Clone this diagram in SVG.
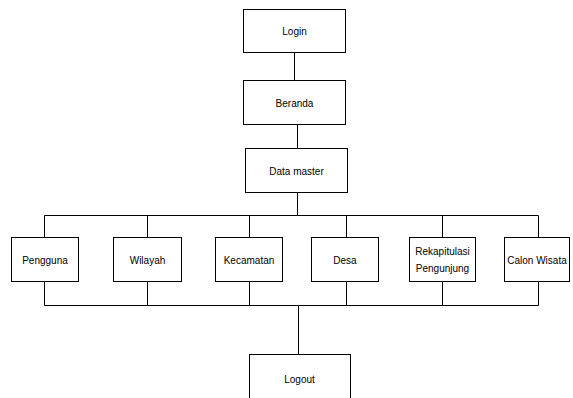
<svg xmlns="http://www.w3.org/2000/svg" width="573" height="398" viewBox="0 0 573 398">
  <style>
    .box { fill: #ffffff; stroke: #000000; stroke-width: 1; }
    .lbl { font-family: "Liberation Sans", Arial, sans-serif; font-size: 10px; fill: #000000; text-anchor: middle; dominant-baseline: central; }
    .wire { fill: none; stroke: #000000; stroke-width: 1; }
  </style>
  <rect width="573" height="398" fill="#ffffff"/>

  <g id="connectors">
    <line class="wire" x1="294.5" y1="53" x2="294.5" y2="80"/>
    <line class="wire" x1="297.5" y1="125" x2="297.5" y2="148"/>
    <line class="wire" x1="297.5" y1="193" x2="297.5" y2="215"/>
    <!-- upper bus to the menu items -->
    <polyline class="wire" points="44.5,237 44.5,215.5 538.5,215.5 538.5,237"/>
    <line class="wire" x1="147.5" y1="215.5" x2="147.5" y2="237"/>
    <line class="wire" x1="249.5" y1="215.5" x2="249.5" y2="237"/>
    <line class="wire" x1="346.5" y1="215.5" x2="346.5" y2="237"/>
    <line class="wire" x1="442.5" y1="215.5" x2="442.5" y2="237"/>
    <!-- lower bus gathering the menu items -->
    <polyline class="wire" points="44.5,282 44.5,305.5 538.5,305.5 538.5,282"/>
    <line class="wire" x1="147.5" y1="282" x2="147.5" y2="305.5"/>
    <line class="wire" x1="249.5" y1="282" x2="249.5" y2="305.5"/>
    <line class="wire" x1="346.5" y1="282" x2="346.5" y2="305.5"/>
    <line class="wire" x1="442.5" y1="282" x2="442.5" y2="305.5"/>
    <line class="wire" x1="298.5" y1="305.5" x2="298.5" y2="354"/>
  </g>

  <g id="login">
    <rect class="box" x="243.5" y="9.5" width="102" height="43"/>
    <text class="lbl" x="294.5" y="31">Login</text>
  </g>
  <g id="beranda">
    <rect class="box" x="243.5" y="80.5" width="102" height="44"/>
    <text class="lbl" x="294.5" y="103">Beranda</text>
  </g>
  <g id="data-master">
    <rect class="box" x="245.5" y="148.5" width="102" height="44"/>
    <text class="lbl" x="296.5" y="171">Data master</text>
  </g>

  <g id="pengguna">
    <rect class="box" x="11.5" y="237.5" width="67" height="44"/>
    <text class="lbl" x="45" y="260">Pengguna</text>
  </g>
  <g id="wilayah">
    <rect class="box" x="113.5" y="237.5" width="68" height="44"/>
    <text class="lbl" x="147.5" y="260">Wilayah</text>
  </g>
  <g id="kecamatan">
    <rect class="box" x="215.5" y="237.5" width="67" height="44"/>
    <text class="lbl" x="249" y="260">Kecamatan</text>
  </g>
  <g id="desa">
    <rect class="box" x="311.5" y="237.5" width="67" height="44"/>
    <text class="lbl" x="345" y="260">Desa</text>
  </g>
  <g id="rekapitulasi">
    <rect class="box" x="409.5" y="237.5" width="66" height="44"/>
    <text class="lbl" x="442.5" y="251">Rekapitulasi</text>
    <text class="lbl" x="442.5" y="268">Pengunjung</text>
  </g>
  <g id="calon-wisata">
    <rect class="box" x="504.5" y="237.5" width="65" height="44"/>
    <text class="lbl" x="537" y="260">Calon Wisata</text>
  </g>

  <g id="logout">
    <rect class="box" x="249.5" y="354.5" width="101" height="50"/>
    <text class="lbl" x="299.5" y="379">Logout</text>
  </g>
</svg>
